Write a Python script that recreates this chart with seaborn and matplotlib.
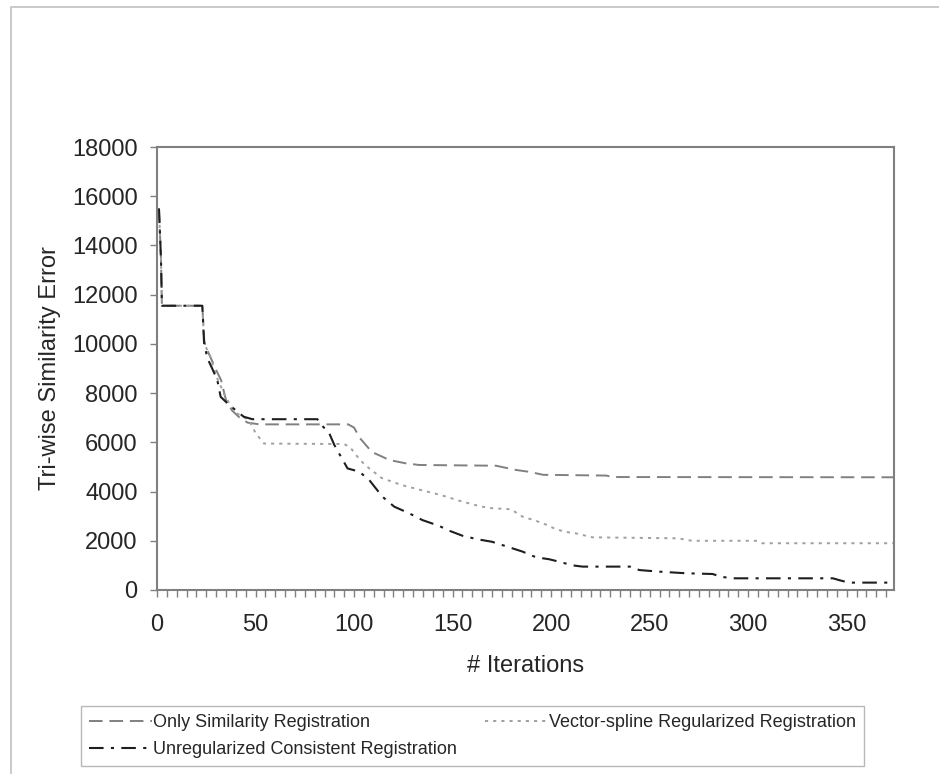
import pandas as pd
import matplotlib
matplotlib.use("Agg")
import matplotlib.pyplot as plt
import matplotlib.patches as mpatches
from matplotlib.ticker import MultipleLocator
import seaborn as sns

# data (step-like convergence curves)
only_x = [1, 2, 2.5, 23, 24, 25.5, 28, 30, 32.5, 35, 38, 42, 46, 52, 97, 100, 103, 109, 118, 126, 133, 172, 182, 189, 196, 228, 231, 374]
only_y = [15500, 13500, 11550, 11550, 10100, 9750, 9300, 8940, 8530, 7720, 7300, 7000, 6800, 6730, 6730, 6600, 6170, 5610, 5280, 5150, 5080, 5050, 4880, 4800, 4680, 4650, 4590, 4580]

vec_x = [1, 2, 2.5, 23, 24, 27, 30, 35, 40, 46.7, 50, 54.3, 95, 98, 103, 107.7, 114, 124, 134, 144, 155, 163.5, 168.6, 179.6, 185.5, 192, 198, 201.6, 206.7, 212.6, 221, 265, 268.5, 272, 304, 307, 374]
vec_y = [15500, 13500, 11550, 11550, 10000, 9500, 8700, 7800, 7200, 6900, 6380, 5950, 5930, 5800, 5280, 4940, 4550, 4270, 4060, 3860, 3590, 3410, 3330, 3280, 2980, 2820, 2640, 2500, 2370, 2300, 2140, 2100, 2030, 2000, 2000, 1900, 1900]

unreg_x = [1, 2, 2.5, 23, 23.9, 25.6, 28, 30.6, 32.3, 36.6, 40.8, 44, 48.4, 81.4, 83, 87.4, 90, 96.7, 102.6, 107.7, 114.4, 120.4, 128, 134.7, 143, 148.3, 155, 162.7, 170, 177.8, 185.5, 192.3, 199, 204, 211, 216, 240, 244.8, 255, 268.5, 282, 286, 292, 343, 346, 351, 374]
unreg_y = [15500, 13500, 11550, 11550, 10020, 9410, 9000, 8530, 7850, 7520, 7250, 7040, 6940, 6940, 6745, 6370, 5890, 4940, 4810, 4470, 3790, 3385, 3115, 2840, 2610, 2410, 2205, 2060, 1960, 1760, 1560, 1330, 1250, 1150, 1000, 950, 950, 810, 745, 680, 650, 540, 475, 475, 405, 300, 300]

labels = ["Only Similarity Registration",
          "Vector-spline Regularized Registration",
          "Unregularized Consistent Registration"]

sns.set_style("white")
plt.rcParams['font.family'] = ['Liberation Sans', 'DejaVu Sans']

fig = plt.figure(figsize=(9.39, 7.74), dpi=100)
ax = fig.add_axes([157/939, (774-590)/774, (894-157)/939, (590-147)/774])

sns.lineplot(x=only_x, y=only_y, ax=ax, color="#808080", lw=1.4,
             linestyle=(0, (7, 3.5)), label=labels[0], estimator=None, sort=False)
sns.lineplot(x=vec_x, y=vec_y, ax=ax, color="#a0a0a0", lw=1.4,
             linestyle=(0, (1.6, 2.6)), label=labels[1], estimator=None, sort=False)
sns.lineplot(x=unreg_x, y=unreg_y, ax=ax, color="#1e1e1e", lw=1.5,
             linestyle=(0, (7, 3.5, 1.5, 3.5)), label=labels[2], estimator=None, sort=False)

ax.set_xlim(0, 374)
ax.set_ylim(0, 18000)
ax.yaxis.set_major_locator(MultipleLocator(2000))
ax.xaxis.set_major_locator(MultipleLocator(50))
ax.xaxis.set_minor_locator(MultipleLocator(5))
ax.tick_params(axis="both", which="both", direction="out", length=5, width=1,
               color="#808080", labelsize=17)
ax.tick_params(axis="x", which="major", pad=12)
ax.tick_params(axis="y", pad=9)
ax.tick_params(bottom=True, left=True, which="both")
ax.tick_params(axis="y", which="minor", left=False)
for s in ax.spines.values():
    s.set_color("#808080")
    s.set_linewidth(1.5)

ax.set_xlabel("# Iterations", fontsize=17, labelpad=14)
ax.set_ylabel("Tri-wise Similarity Error", fontsize=17, labelpad=8)

handles, labs = ax.get_legend_handles_labels()
order = [0, 2, 1]
leg = fig.legend([handles[i] for i in order], [labs[i] for i in order],
                 loc="upper left", ncol=2, mode="expand",
                 bbox_to_anchor=(81/939, -0.02, (864-81)/939, (774-706)/774 + 0.02),
                 fontsize=13, frameon=True, fancybox=False, framealpha=1,
                 edgecolor="#b8b8b8", handlelength=3.5, handletextpad=0.05,
                 labelspacing=0.55, borderpad=0.45, borderaxespad=0)
leg.get_frame().set_linewidth(1.0)
ax.get_legend().remove()

# light border around the whole chart area
fig.patches.append(mpatches.Rectangle((11/939, -0.05), 1.0, (774-7)/774 + 0.05,
                                      transform=fig.transFigure, fill=False,
                                      edgecolor="#c0c0c0", lw=1.2))

fig.savefig("out.png", dpi=100)
